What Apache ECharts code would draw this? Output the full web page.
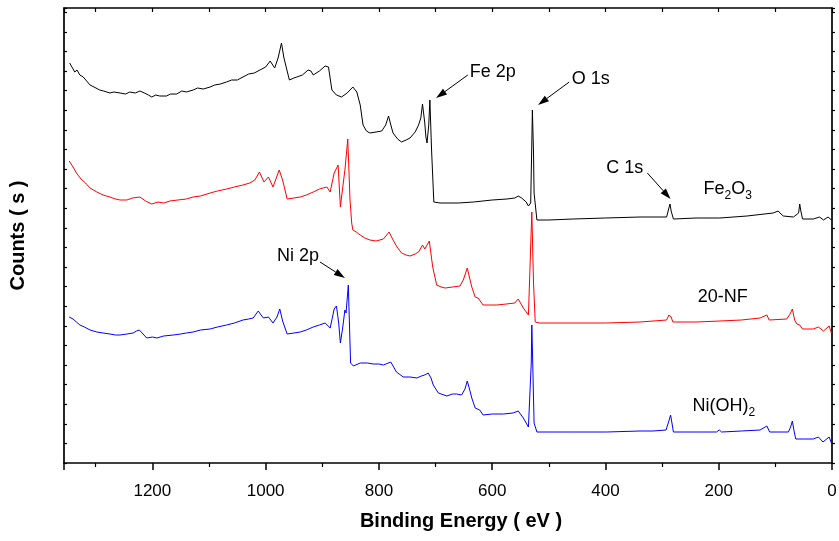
<!DOCTYPE html>
<html>
<head>
<meta charset="utf-8">
<title>XPS survey</title>
<script src="https://cdn.jsdelivr.net/npm/echarts@6/dist/echarts.min.js"></script>
<style>
html,body{margin:0;padding:0;background:#fff;}
#main{width:839px;height:541px;}
</style>
</head>
<body>
<div id="main"></div>
<script>
// [binding energy (eV), counts]
var fe2o3 = [
    [1346,400],[1342,396],[1337,391],[1333,393],[1328,388],[1322,386],[1316,382],[1310,378],[1303,376],[1293,373],
    [1286,372],[1275,370],[1268,371],[1257,370],[1247,369],[1240,371],[1230,370],[1222,372],[1214,370],[1207,368],
    [1201,366],[1194,368],[1187,367],[1175,367],[1168,369],[1157,369],[1148,372],[1140,371],[1128,373],[1120,375],
    [1110,374],[1098,376],[1090,378],[1080,379],[1069,381],[1060,383],[1050,383],[1040,386],[1030,389],[1020,390],
    [1010,393],[1000,396],[992,402],[984,395],[978,405],[972,420],[968,406],[962,392],[958,383],[950,385],
    [945,386],[935,388],[925,393],[920,392],[916,388],[905,392],[895,397],[889,396],[883,373],[875,368],
    [866,366],[856,370],[846,376],[839,371],[833,358],[828,338],[822,332],[816,330],[805,331],[795,332],
    [788,338],[783,347],[778,336],[775,330],[767,324],[760,321],[752,323],[745,325],[736,331],[730,338],
    [726,345],[723,359],[719,340],[717,326],[715,320],[712,338],[710,363],[707,313],[703,261],[692,260],
    [660,260],[633,261],[600,263],[574,264],[560,265],[554,267],[548,265],[540,261],[536,257],[532,260],
    [530,320],[529,353],[527,310],[526,270],[521,243],[500,243],[457,244],[400,245],[339,246],[292,246],
    [288,255],[286,259],[284,252],[280,244],[240,245],[198,245],[150,247],[104,250],[95,252],[90,249],
    [86,247],[68,246],[59,250],[57,259],[55,252],[52,244],[33,244],[22,246],[15,243],[7,246],[1,243]
];
var nf20 = [
    [1347,302],[1340,296],[1334,290],[1326,284],[1318,280],[1310,275],[1298,271],[1287,268],[1275,266],[1265,264],
    [1257,263],[1245,263],[1235,265],[1222,266],[1212,262],[1201,259],[1190,261],[1180,260],[1169,262],[1155,263],
    [1140,264],[1128,266],[1115,267],[1098,270],[1085,272],[1069,274],[1055,276],[1040,278],[1028,280],[1019,283],
    [1011,291],[1003,281],[995,286],[987,276],[976,293],[970,283],[962,264],[950,265],[939,266],[928,268],
    [916,271],[905,274],[892,276],[886,271],[879,290],[876,288],[872,298],[868,256],[864,275],[860,293],
    [858,295],[855,324],[851,263],[848,240],[846,233],[840,231],[833,228],[825,225],[816,223],[805,222],
    [792,224],[782,231],[775,223],[768,216],[760,210],[752,208],[745,207],[736,209],[730,211],[723,218],
    [719,214],[711,222],[705,196],[698,178],[690,176],[683,175],[670,176],[657,177],[651,183],[644,195],
    [636,176],[630,166],[625,165],[616,158],[605,158],[592,158],[575,159],[560,160],[554,164],[545,155],
    [536,148],[533,150],[530,251],[527,180],[524,141],[516,140],[457,140],[400,140],[339,141],[292,143],
    [288,148],[286,150],[284,146],[281,141],[240,141],[198,142],[160,143],[127,145],[115,148],[111,143],
    [80,144],[74,149],[70,154],[66,143],[62,139],[57,138],[52,134],[33,134],[24,136],[15,132],[5,137],[1,130]
];
var niOH2 = [
    [1347,146],[1340,144],[1334,141],[1328,138],[1320,136],[1310,133],[1298,131],[1287,130],[1275,129],[1265,128],
    [1257,128],[1245,129],[1234,130],[1228,132],[1223,133],[1218,130],[1210,125],[1200,126],[1192,125],[1180,127],
    [1163,128],[1150,129],[1140,130],[1128,131],[1115,133],[1098,134],[1085,136],[1069,138],[1055,140],[1040,143],
    [1030,144],[1022,145],[1013,152],[1008,148],[1004,145],[995,146],[987,140],[980,146],[975,154],[970,142],
    [962,129],[950,130],[939,131],[928,133],[916,136],[905,138],[895,140],[886,135],[879,154],[875,157],
    [871,140],[868,120],[864,135],[860,153],[858,150],[854,178],[850,100],[845,97],[833,100],[820,100],
    [810,99],[800,99],[792,98],[779,101],[769,91],[757,86],[745,86],[733,85],[725,87],[719,88],
    [713,90],[708,85],[704,78],[695,70],[680,67],[670,69],[663,69],[654,68],[648,74],[644,82],
    [640,74],[636,65],[630,55],[622,53],[616,48],[600,49],[580,49],[563,50],[554,52],[545,45],
    [536,36],[533,38],[531,100],[530,138],[528,90],[526,40],[521,31],[500,31],[457,31],[398,31],
    [339,32],[316,32],[293,33],[288,42],[285,48],[282,38],[280,31],[240,31],[204,31],[199,33],
    [195,31],[160,32],[127,33],[115,37],[110,31],[90,31],[77,31],[73,36],[70,42],[67,32],
    [64,24],[50,24],[33,24],[24,26],[16,21],[5,26],[1,20]
];
var seriesNames = ['Fe2O3', '20-NF', 'Ni(OH)2'];
var xTicks = [0, 200, 400, 600, 800, 1000, 1200];

// peak labels + arrows, in data coords (eV, counts)
var notes = [
    {text: 'Fe 2p', at: [599, 391], from: [643, 388], to: [699, 365]},
    {text: 'O 1s',  at: [426, 384], from: [464, 381], to: [519, 358]},
    {text: 'C 1s',  at: [366, 295], from: [326, 290], to: [285, 264]},
    {text: 'Ni 2p', at: [943, 207], from: [904, 201], to: [860, 185]}
];
var sampleLabels = [
    {rich: '{n|Fe}{s|2}{n|O}{s|3}', at: [184, 272]},
    {rich: '{n|20-NF}', at: [193, 164]},
    {rich: '{n|Ni(OH)}{s|2}', at: [191, 55]}
];

var FONT = '"Liberation Sans", Arial, sans-serif';
var chart = echarts.init(document.getElementById('main'), null, {renderer: 'canvas'});

var axisLine = {show: true, onZero: false, lineStyle: {color: '#000', width: 1.7}};

var option = {
    animation: false,
    backgroundColor: '#fff',
    grid: {left: 64, right: 7, top: 8, bottom: 78, containLabel: false, outerBoundsMode: 'none'},
    xAxis: [{
        type: 'value', min: 0, max: 1356, interval: 200, inverse: true,
        name: 'Binding Energy ( eV )', nameLocation: 'middle', nameGap: 48,
        nameTextStyle: {fontFamily: FONT, fontWeight: 'bold', fontSize: 20, color: '#000', padding: [0, 0, 0, 26]},
        axisLine: axisLine,
        axisTick: {inside: false, length: 7, lineStyle: {color: '#000', width: 1.5}},
        minorTick: {show: true, splitNumber: 2, length: 4, lineStyle: {color: '#000', width: 1.2}},
        axisLabel: {
            fontFamily: FONT, fontSize: 17, color: '#000', margin: 20, showMaxLabel: false,
            formatter: function (v) { return xTicks.indexOf(v) >= 0 ? String(v) : ''; }
        },
        splitLine: {show: false}
    }, {
        type: 'value', position: 'top', min: 0, max: 1356, interval: 100, inverse: true,
        axisLine: axisLine,
        axisTick: {inside: true, length: 4, lineStyle: {color: '#000', width: 1.2}},
        axisLabel: {show: false},
        splitLine: {show: false}
    }],
    yAxis: [{
        type: 'value', min: 0, max: 455, interval: 19.6,
        name: 'Counts ( s )', nameLocation: 'middle', nameGap: 36,
        nameTextStyle: {fontFamily: FONT, fontWeight: 'bold', fontSize: 20, color: '#000'},
        axisLine: axisLine,
        axisTick: {inside: true, length: 3, lineStyle: {color: '#000', width: 1.2}},
        axisLabel: {show: false},
        splitLine: {show: false}
    }, {
        type: 'value', position: 'right', min: 0, max: 455, interval: 19.6,
        axisLine: axisLine,
        axisTick: {inside: false, length: 3, lineStyle: {color: '#000', width: 1.2}},
        axisLabel: {show: false},
        splitLine: {show: false}
    }],
    series: [
        {name: seriesNames[0], type: 'line', data: fe2o3, color: '#000000'},
        {name: seriesNames[1], type: 'line', data: nf20, color: '#ff0000'},
        {name: seriesNames[2], type: 'line', data: niOH2, color: '#0000ff'}
    ].map(function (s) {
        s.showSymbol = false;
        s.symbol = 'none';
        s.lineStyle = {width: 1, color: s.color};
        s.z = 3;
        return s;
    })
};
chart.setOption(option);

// labels and arrows placed through the chart's own scales
function px(pt) { return chart.convertToPixel({seriesIndex: 0}, pt); }

var elements = [];
notes.forEach(function (n) {
    var c = px(n.at), a = px(n.from), b = px(n.to);
    var dx = b[0] - a[0], dy = b[1] - a[1];
    var len = Math.sqrt(dx * dx + dy * dy);
    var ux = dx / len, uy = dy / len;
    var head = 11, half = 3.5;
    var bx = b[0] - ux * head, by = b[1] - uy * head;
    elements.push({
        type: 'text', x: c[0], y: c[1],
        style: {text: n.text, font: '18px ' + FONT, fill: '#000',
                align: 'center', verticalAlign: 'middle', textAlign: 'center', textVerticalAlign: 'middle'}
    });
    elements.push({
        type: 'line', shape: {x1: a[0], y1: a[1], x2: bx, y2: by},
        style: {stroke: '#000', lineWidth: 1}
    });
    elements.push({
        type: 'polygon',
        shape: {points: [[b[0], b[1]], [bx - uy * half, by + ux * half], [bx + uy * half, by - ux * half]]},
        style: {fill: '#000'}
    });
});
sampleLabels.forEach(function (l) {
    var c = px(l.at);
    elements.push({
        type: 'text', x: c[0], y: c[1],
        style: {
            text: l.rich, fill: '#000',
            align: 'center', verticalAlign: 'middle', textAlign: 'center', textVerticalAlign: 'middle',
            rich: {
                n: {fontFamily: FONT, fontSize: 18, lineHeight: 22, verticalAlign: 'top', color: '#000'},
                s: {fontFamily: FONT, fontSize: 12, lineHeight: 12, verticalAlign: 'bottom', color: '#000'}
            }
        }
    });
});
chart.setOption({graphic: {elements: elements}});
</script>
</body>
</html>
